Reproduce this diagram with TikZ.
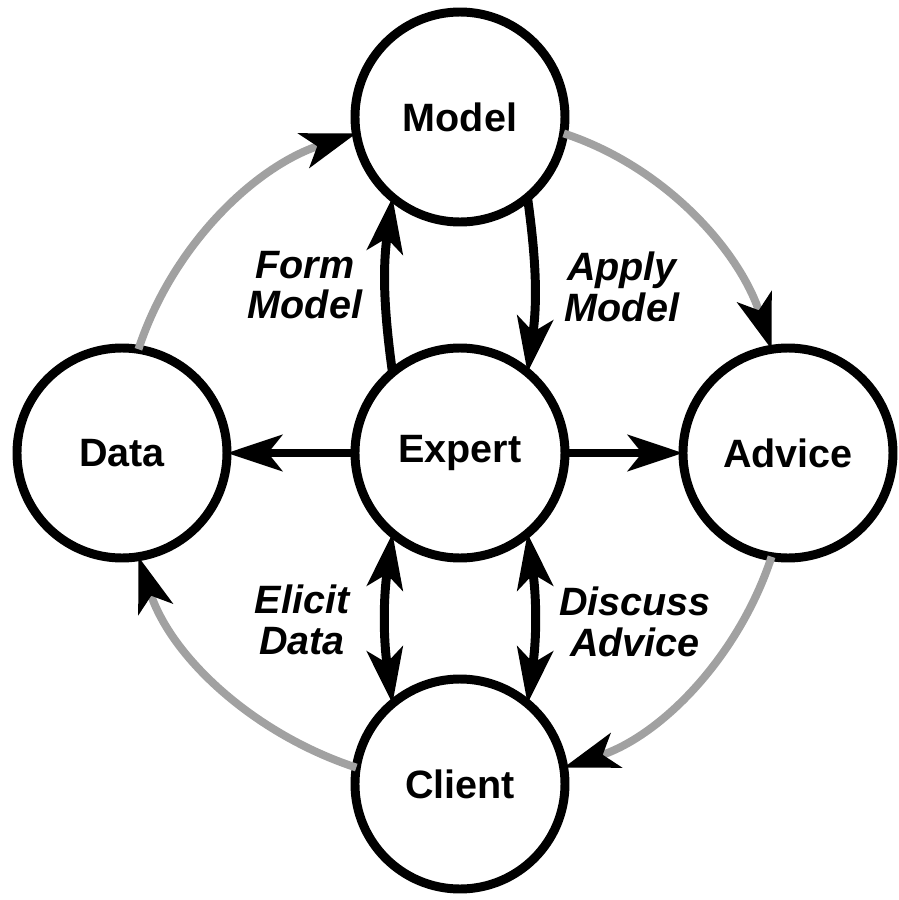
\documentclass[tikz,border=0pt]{standalone}
\usepackage{fontspec}
\setmainfont{Liberation Sans}
\usetikzlibrary{arrows.meta}

\begin{document}
\begin{tikzpicture}[>={Stealth[length=11mm, width=7.2mm, inset=2.8mm]},
    state/.style={circle, draw, line width=5.1pt, minimum size=4.2cm, inner sep=0pt, outer sep=0pt,
      font=\bfseries\fontsize{22.5}{23}\selectfont},
    flow/.style={line width=5.1pt},
    ring/.style={line width=4.5pt, draw=black!37, looseness=0.9,
      -{Stealth[length=11mm, width=7.2mm, inset=2.8mm, black]}},
    tag/.style={font=\bfseries\itshape\fontsize{22.5}{23}\selectfont, align=center}]
    \useasboundingbox (-9.2, -8.94) rectangle (8.78, 9.06);

    \node[state] (expert) at (0, 0) {Expert};
    \node[state] (model) at (0, 6.72) {Model};
    \node[state] (client) at (0, -6.62) {Client};
    \node[state] (data) at (-6.76, 0) {Data};
    \node[state] (advice) at (6.56, 0) {Advice};

    % outer cycle
    \draw[ring] (data.81) to[out=71.86, in=198.14] (model.189);
    \draw[ring] (model.351) to[out=-18.14, in=108.14] (advice.99);
    \draw[ring] (advice.261) to[out=-108.14, in=18.14] (client.9);
    \draw[ring] (client.171) to[out=161.86, in=288.14] (data.279);

    % expert links
    \draw[flow, ->] (expert) -- (data);
    \draw[flow, ->] (expert) -- (advice);
    \draw[flow, ->] (expert.130) to[bend left=8] (model.230);
    \draw[flow, ->] (model.310) to[bend left=8] (expert.50);
    \draw[flow, <->] (expert.230) to[bend right=8] (client.130);
    \draw[flow, <->] (expert.310) to[bend left=8] (client.50);

    \node[tag] (form) at (-3.1, 3.36) {Form\\Model};
    \node[tag] (apply) at (3.24, 3.32) {Apply\\Model};
    \node[tag] (elicit) at (-3.16, -3.34) {Elicit\\Data};
    \node[tag] (discuss) at (3.5, -3.38) {Discuss\\Advice};
\end{tikzpicture}
\end{document}
